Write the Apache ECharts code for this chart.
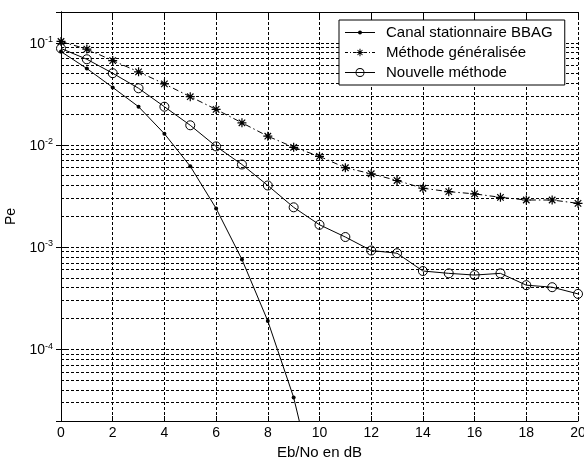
<!DOCTYPE html>
<html><head><meta charset="utf-8">
<script src="https://cdn.jsdelivr.net/npm/echarts@6/dist/echarts.min.js"></script>
<style>html,body{margin:0;padding:0;background:#fff}#c{width:584px;height:461px}</style>
</head><body><div id="c"></div>
<script>
// Data
const ebNo = [0,1,2,3,4,5,6,7,8,9,10,11,12,13,14,15,16,17,18,19,20];
const canalX = [0,1,2,3,4,5,6,7,8,9,10];
const canalBBAG = [0.082,0.056,0.0366,0.0237,0.0129,0.0062,0.0024,7.6e-4,1.9e-4,3.4e-5,3.0e-6];
const methodeGeneralisee = [0.103,0.0867,0.067,0.052,0.0396,0.0297,0.0223,0.0165,0.0122,0.0095,0.00775,0.0060,0.00524,0.0045,0.00378,0.0035,0.00333,0.00308,0.0029,0.0029,0.00269];
const nouvelleMethode = [0.088,0.069,0.0504,0.0359,0.0237,0.0156,0.0097,0.00645,0.00402,0.00246,0.00166,0.00126,9.3e-4,8.75e-4,5.86e-4,5.56e-4,5.35e-4,5.56e-4,4.26e-4,4.07e-4,3.5e-4];
const seriesNames = ['Canal stationnaire BBAG','Méthode généralisée','Nouvelle méthode'];
const xRange = [0, 20];
const xStep = 2;
const yRange = [2e-5, 0.2];
const minorMantissas = [2,3,4,5,6,7,8,9];
const decades = [-5,-4,-3,-2,-1];

const minorGrid = [];
decades.forEach(e => minorMantissas.forEach(m => {
  const v = m * Math.pow(10, e);
  if (v > yRange[0] * 1.001 && v < yRange[1] * 0.999) minorGrid.push(v);
}));

const FONT = 'Liberation Sans';
const gridLine = {color:'#000', width:1, type:[3,2]};
const star = 'path://M0,-5L0,5M-5,0L5,0M-3.6,-3.6L3.6,3.6M-3.6,3.6L3.6,-3.6';

// legend icons (line sample + marker), 30 px wide
const iconCanal = 'path://M0,6.5H30V7.5H0Z M13,7A2,2 0 1 1 17,7A2,2 0 1 1 13,7Z';
const iconMethode = 'path://M0,6.5H3V7.5H0Z M5,6.5H6V7.5H5Z M8,6.5H11V7.5H8Z M19,6.5H22V7.5H19Z M24,6.5H25V7.5H24Z M27,6.5H30V7.5H27Z ' +
  'M14.5,3.3H15.5V10.7H14.5Z M11.3,6.5H18.7V7.5H11.3Z M12.15,4.85L12.85,4.15L17.85,9.15L17.15,9.85Z M12.15,9.15L17.15,4.15L17.85,4.85L12.85,9.85Z';
const iconNouvelle = 'path://M0,6.5H30V7.5H0Z M10.5,7A4.5,4.5 0 1 1 19.5,7A4.5,4.5 0 1 1 10.5,7Z M11.4,7A3.6,3.6 0 1 0 18.6,7A3.6,3.6 0 1 0 11.4,7Z';
const legendIcons = [iconCanal, iconMethode, iconNouvelle];

const chart = echarts.init(document.getElementById('c'), null, {renderer:'canvas'});
chart.setOption({
  animation:false,
  backgroundColor:'#fff',
  textStyle:{fontFamily:FONT, color:'#000'},
  grid:{left:61, right:6, top:12, bottom:40, containLabel:false, outerBoundsMode:'none'},
  legend:{
    left:339, top:20, orient:'vertical', z:50,
    itemWidth:30, itemHeight:14, itemGap:5,
    padding:[5,12,5,6],
    borderColor:'#000', borderWidth:1, backgroundColor:'#fff',
    itemStyle:{color:'#000', borderWidth:0},
    textStyle:{fontFamily:FONT, fontSize:15, color:'#000', padding:[0,0,0,6]},
    data:seriesNames.map((n,i)=>({name:n, icon:legendIcons[i]}))
  },
  xAxis:[{
    type:'value', min:xRange[0], max:xRange[1], interval:xStep, position:'bottom',
    name:'Eb/No en dB', nameLocation:'middle', nameGap:23,
    nameTextStyle:{fontFamily:FONT, fontSize:15, color:'#000'},
    axisLine:{show:true, lineStyle:{color:'#000', width:1}},
    axisTick:{show:true, inside:true, length:5, lineStyle:{color:'#000'}},
    axisLabel:{fontFamily:FONT, fontSize:14, color:'#000', margin:5},
    splitLine:{show:true, lineStyle:gridLine}
  },{
    type:'value', min:xRange[0], max:xRange[1], interval:xStep, position:'top',
    axisLine:{show:true, lineStyle:{color:'#000', width:1}},
    axisTick:{show:true, inside:true, length:5, lineStyle:{color:'#000'}},
    axisLabel:{show:false}, splitLine:{show:false}
  }],
  yAxis:[{
    type:'log', logBase:10, min:yRange[0], max:yRange[1], position:'left',
    name:'Pe', nameLocation:'middle', nameGap:40,
    nameTextStyle:{fontFamily:FONT, fontSize:14, color:'#000'},
    axisLine:{show:true, lineStyle:{color:'#000', width:1}},
    axisTick:{show:true, inside:true, length:5, lineStyle:{color:'#000'}},
    axisLabel:{
      margin:8, showMinLabel:false, showMaxLabel:false,
      formatter:function(v){
        const e = Math.log10(v);
        if (Math.abs(e - Math.round(e)) > 1e-6) return '';
        return '{b|10}{s|' + Math.round(e) + '}';
      },
      rich:{
        b:{fontFamily:FONT, fontSize:14, color:'#000', lineHeight:16, verticalAlign:'bottom'},
        s:{fontFamily:FONT, fontSize:9, color:'#000', lineHeight:16, verticalAlign:'top', padding:[0,0,8,0]}
      }
    },
    splitLine:{show:true, lineStyle:gridLine}
  },{
    type:'log', logBase:10, min:yRange[0], max:yRange[1], position:'right',
    axisLine:{show:true, lineStyle:{color:'#000', width:1}},
    axisTick:{show:true, inside:true, length:5, lineStyle:{color:'#000'}},
    axisLabel:{show:false}, splitLine:{show:false}
  }],
  series:[{
    name:'minorGrid', type:'custom', coordinateSystem:'cartesian2d',
    xAxisIndex:0, yAxisIndex:0, silent:true, z:1,
    data:minorGrid.map(v=>[xRange[0], v, xRange[1]]),
    encode:{x:[0,2], y:1},
    renderItem:function(params, api){
      const p1 = api.coord([api.value(0), api.value(1)]);
      const p2 = api.coord([api.value(2), api.value(1)]);
      const y = Math.round(p1[1] - 0.5) + 0.5;
      return {type:'line', shape:{x1:p1[0], y1:y, x2:p2[0], y2:y},
        style:{stroke:'#000', lineWidth:1, lineDash:[3,2], fill:null}};
    }
  },{
    name:seriesNames[0], type:'line', z:3,
    data:canalX.map((x,i)=>[x, canalBBAG[i]]),
    symbol:'circle', symbolSize:4,
    lineStyle:{color:'#000', width:1, type:'solid'},
    itemStyle:{color:'#000'},
    clip:true
  },{
    name:seriesNames[1], type:'line', z:3,
    data:ebNo.map((x,i)=>[x, methodeGeneralisee[i]]),
    symbol:star, symbolSize:9,
    lineStyle:{color:'#000', width:1, type:[6,3,1.5,3]},
    itemStyle:{color:'#000', borderColor:'#000', borderWidth:1.2}
  },{
    name:seriesNames[2], type:'line', z:3,
    data:ebNo.map((x,i)=>[x, nouvelleMethode[i]]),
    symbol:'circle', symbolSize:9,
    lineStyle:{color:'#000', width:1, type:'solid'},
    itemStyle:{color:'rgba(0,0,0,0)', borderColor:'#000', borderWidth:1}
  }]
});
</script>
</body></html>
